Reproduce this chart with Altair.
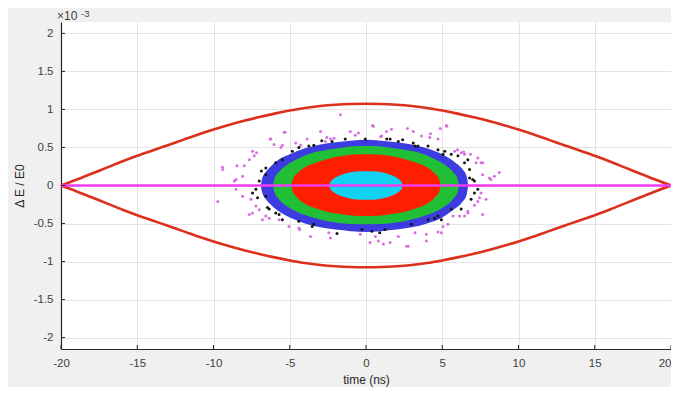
import altair as alt
import pandas as pd

# ---------------- data (ΔE/E0 in units of 1e-3) ----------------
sep_x = [-20, -19, -18, -17, -16, -15, -14, -13, -12, -11, -10, -9, -8, -7, -6, -5, -4, -3, -2, -1, 0,
         1, 2, 3, 4, 5, 6, 7, 8, 9, 10, 11, 12, 13, 14, 15, 16, 17, 18, 19, 20]
sep_upper = [0, 0.075, 0.155, 0.235, 0.315, 0.39, 0.46, 0.53, 0.60, 0.67, 0.735, 0.795, 0.85, 0.90, 0.945,
             0.985, 1.02, 1.045, 1.062, 1.072, 1.075,
             1.072, 1.062, 1.045, 1.02, 0.985, 0.945, 0.90, 0.85, 0.795, 0.735, 0.67, 0.60, 0.53, 0.46,
             0.39, 0.315, 0.235, 0.155, 0.075, 0]
sep_lower = [0, -0.075, -0.155, -0.235, -0.315, -0.39, -0.46, -0.53, -0.60, -0.67, -0.735, -0.795, -0.85,
             -0.90, -0.945, -0.985, -1.02, -1.045, -1.062, -1.072, -1.075,
             -1.072, -1.062, -1.045, -1.02, -0.985, -0.945, -0.90, -0.85, -0.795, -0.735, -0.67, -0.60,
             -0.53, -0.46, -0.39, -0.315, -0.235, -0.155, -0.075, 0]

ref_x = [-20, 20]
ref_y = [0, 0]

blue_x = [-6.9, -6.8, -6.6, -6.3, -5.8, -5.0, -4.0, -3.0, -2.0, -1.0, 0.0, 1.0, 2.0, 3.0, 4.0, 5.0, 5.8, 6.3, 6.6, 6.7]
blue_top = [0, 0.10, 0.17, 0.24, 0.33, 0.41, 0.49, 0.54, 0.57, 0.59, 0.60, 0.59, 0.57, 0.54, 0.49, 0.41, 0.31, 0.22, 0.12, 0]
blue_bot = [0, -0.10, -0.17, -0.24, -0.33, -0.42, -0.50, -0.55, -0.58, -0.60, -0.61, -0.60, -0.58, -0.55, -0.50, -0.42, -0.31, -0.22, -0.12, 0]

green_x = [-6.1, -6.0, -5.7, -5.2, -4.5, -3.5, -2.5, -1.5, -0.5, 0.5, 1.5, 2.5, 3.5, 4.5, 5.2, 5.7, 6.0, 6.1]
green_top = [0, 0.09, 0.18, 0.27, 0.35, 0.43, 0.47, 0.50, 0.52, 0.52, 0.50, 0.47, 0.43, 0.35, 0.27, 0.18, 0.09, 0]
green_bot = [0, -0.09, -0.18, -0.27, -0.35, -0.42, -0.47, -0.50, -0.51, -0.51, -0.50, -0.47, -0.42, -0.35, -0.27, -0.18, -0.09, 0]

red_x = [-4.9, -4.8, -4.5, -4.0, -3.3, -2.5, -1.5, -0.5, 0.5, 1.5, 2.5, 3.3, 4.0, 4.5, 4.8, 4.9]
red_top = [0, 0.08, 0.16, 0.24, 0.30, 0.35, 0.39, 0.41, 0.41, 0.39, 0.35, 0.30, 0.24, 0.16, 0.08, 0]
red_bot = [0, -0.08, -0.16, -0.24, -0.30, -0.35, -0.38, -0.40, -0.40, -0.38, -0.35, -0.30, -0.24, -0.16, -0.08, 0]

cyan_x = [-2.4, -2.35, -2.2, -1.9, -1.5, -1.0, -0.4, 0.4, 1.0, 1.5, 1.9, 2.2, 2.35, 2.4]
cyan_top = [0, 0.04, 0.076, 0.116, 0.148, 0.173, 0.187, 0.187, 0.173, 0.148, 0.116, 0.076, 0.04, 0]
cyan_bot = [0, -0.04, -0.076, -0.116, -0.148, -0.173, -0.187, -0.187, -0.173, -0.148, -0.116, -0.076, -0.04, 0]

mag_x = [-1.68, 0.42, 5.27, 2.72, 4.23, -1.03, -0.70, -0.49, 1.03, -5.31, -6.29, -7.44, -7.18, -7.65, -6.03,
         -5.48, -4.61, -4.29, -2.33, -2.66, 5.81, 6.24, 6.46, 7.22, 7.54, 8.19, 8.74, 7.65, -8.52, -8.63,
         -8.09, -9.39, -9.72, -7.54, -7.22, -7.00, -6.57, -7.44, -5.05, -4.40, -2.44, 0.81, 2.66, 2.12,
         3.21, 4.72, 5.70, 6.46, 6.68, 7.54, 7.33, 7.44, 7.87, -5.37, -2.98, -9.41, -8.46, -7.98, -7.33,
         -6.24, -5.59, -2.57, -3.64, -2.33, -0.38, 0.27, 0.62, 1.14, 1.58, 2.77, 3.96, 3.96, 0.49, 0.96,
         1.34, 1.67, 3.10, 3.64, 4.18, -3.86, -2.10, 4.87, 5.30, 4.72, 7.65, 8.09, 8.42, 7.33, 6.00, 6.40,
         6.85, 7.11, 6.68, 6.14, 5.05, 4.94, 5.37, 7.65, -8.52, -8.09, -7.65, -6.79, -6.35, -5.70, -4.35]
mag_y = [0.93, 0.79, 0.79, 0.75, 0.68, 0.71, 0.66, 0.69, 0.65, 0.70, 0.61, 0.45, 0.43, 0.34, 0.54,
         0.53, 0.56, 0.53, 0.61, 0.58, 0.45, 0.43, 0.41, 0.30, 0.30, 0.08, 0.17, 0.14, 0.08, 0.06,
         0.12, 0.21, -0.21, -0.18, -0.27, -0.32, -0.40, -0.36, -0.54, -0.56, -0.62, -0.73, -0.80, -0.67,
         -0.62, -0.61, -0.40, -0.40, -0.34, -0.10, -0.21, -0.16, -0.18, 0.70, 0.71, 0.24, 0.26, 0.26, 0.39,
         0.61, 0.50, 0.63, -0.67, -0.69, -0.64, -0.75, -0.67, -0.77, -0.75, -0.80, -0.64, -0.73, 0.78, 0.64,
         0.71, 0.74, 0.71, 0.65, 0.63, 0.61, 0.62, 0.75, 0.78, 0.61, 0.30, 0.10, 0.12, 0.36, 0.47, 0.44,
         0.41, -0.26, -0.36, -0.40, -0.54, -0.62, -0.51, -0.38, -0.05, -0.14, -0.38, -0.45, -0.43, -0.45, -0.58]

blk_x = [-6.86, -6.57, -7.22, -7.00, -6.57, -6.46, -6.35, -5.92, -5.48, -3.53, -3.42, -0.27, 0.38, 1.25,
         2.98, 4.07, 4.72, 5.59, 6.89, 7.11, 7.00, 6.79, 6.68, 6.03, 5.16, 4.72, 4.07, 3.21, 2.12, 1.36,
         -0.05, -1.36, -2.23, -3.75, -4.40, -4.83, -5.48, -5.92, -6.57, -7.44, -7.11, -5.70, -4.40, 7.33,
         6.24, 4.94, 4.50, 6.46, 6.79, 7.11, 5.59, 5.05, -3.42, 1.58, 3.10, 3.40, -1.9, 0.9, -2.9, 2.4]
blk_y = [0.19, 0.14, -0.05, 0.06, -0.14, -0.29, -0.31, -0.36, -0.45, -0.54, -0.51, -0.58, -0.60, -0.58,
         -0.51, -0.45, -0.40, -0.31, -0.18, -0.10, 0.08, 0.10, 0.34, 0.39, 0.45, 0.47, 0.52, 0.52, 0.58, 0.61,
         0.61, 0.61, 0.58, 0.52, 0.50, 0.45, 0.34, 0.30, 0.23, -0.10, -0.16, -0.38, -0.47, -0.05,
         -0.31, -0.45, -0.43, 0.30, 0.21, 0.06, 0.41, 0.41, 0.53, 0.61, 0.56, 0.52, -0.63, -0.62, 0.59, 0.60]

x_ticks = [-20, -15, -10, -5, 0, 5, 10, 15, 20]
y_ticks = [-2, -1.5, -1, -0.5, 0, 0.5, 1, 1.5, 2]

# ---------------- tables ----------------
sep_df = pd.DataFrame({"t": sep_x + sep_x, "dE": sep_upper + sep_lower,
                       "branch": ["upper"] * len(sep_x) + ["lower"] * len(sep_x)})
ref_df = pd.DataFrame({"t": ref_x, "dE": ref_y})


def band(name, xs, top, bot):
    return pd.DataFrame({"t": xs, "dE": top, "bot": bot, "band": name})


bands = {
    "blue": band("blue", blue_x, blue_top, blue_bot),
    "green": band("green", green_x, green_top, green_bot),
    "red": band("red", red_x, red_top, red_bot),
    "cyan": band("cyan", cyan_x, cyan_top, cyan_bot),
}
mag_df = pd.DataFrame({"t": mag_x, "dE": mag_y})
blk_df = pd.DataFrame({"t": blk_x, "dE": blk_y})
xt_df = pd.DataFrame({"t": x_ticks})
yt_df = pd.DataFrame({"dE": y_ticks})

W, H = 610, 327
XDOM = [-20, 20]
YDOM = [-2.15, 2.15]
FONT = "Liberation Sans"

xscale = alt.Scale(domain=XDOM, nice=False, zero=False)
yscale = alt.Scale(domain=YDOM, nice=False, zero=False)

x_axis = alt.Axis(values=x_ticks, title="time (ns)", grid=True, labelExpr="'' + datum.value",
                  tickSize=0, labelPadding=8, titlePadding=6, labelFlush=False,
                  labelAlign=alt.ExprRef(expr="datum.value == 20 ? 'right' : 'center'"))
y_axis = alt.Axis(values=y_ticks, title="Δ E / E0", grid=True, labelExpr="'' + datum.value",
                  tickSize=0, labelPadding=8, titlePadding=7, labelFlush=False)

XE = alt.X("t:Q", scale=xscale, title="time (ns)")
YE = alt.Y("dE:Q", scale=yscale, title="Δ E / E0")

base_points = alt.Chart(mag_df).mark_circle(size=9, color="#d86ee0", opacity=1).encode(
    x=alt.X("t:Q", scale=xscale, axis=x_axis), y=alt.Y("dE:Q", scale=yscale, axis=y_axis))

band_colors = {"blue": ("#1c1cdc", 0.86), "green": ("#1ed21e", 0.88),
               "red": ("#ff1e00", 1.0), "cyan": ("#12d2f2", 1.0)}
band_layers = []
for name in ["blue", "green", "red", "cyan"]:
    col, op = band_colors[name]
    band_layers.append(
        alt.Chart(bands[name]).mark_area(color=col, opacity=op, interpolate="monotone").encode(
            x=XE, y=alt.Y("dE:Q", scale=yscale, title="Δ E / E0", stack=None), y2="bot:Q"))

blk_layer = alt.Chart(blk_df).mark_circle(size=9, color="#151515", opacity=1).encode(x=XE, y=YE)

sep_layer = alt.Chart(sep_df).mark_line(color="#dc2f1c", strokeWidth=2.6, interpolate="monotone").encode(
    x=XE, y=YE, detail="branch:N")

ref_layer = alt.Chart(ref_df).mark_line(color="#f23cf0", strokeWidth=2.6).encode(x=XE, y=YE)

# inward tick marks (MATLAB style)
xtick_layer = alt.Chart(xt_df).mark_rule(color="#262626", strokeWidth=1).encode(
    x=XE, y=alt.value(H), y2=alt.value(H - 4))
ytick_layer = alt.Chart(yt_df).mark_rule(color="#262626", strokeWidth=1).encode(
    y=YE, x=alt.value(0), x2=alt.value(4))

exp_df = pd.DataFrame({"a": [0]})
exp_main = alt.Chart(exp_df).mark_text(text="×10", align="left", baseline="alphabetic", font=FONT,
                                       fontSize=12, color="#404040").encode(
    x=alt.value(-4), y=alt.value(-2))
exp_sup = alt.Chart(exp_df).mark_text(text="-3", align="left", baseline="top", font=FONT,
                                      fontSize=9.5, color="#404040").encode(
    x=alt.value(20), y=alt.value(-13.5))

chart = alt.layer(base_points, band_layers[0], blk_layer, *band_layers[1:], sep_layer, ref_layer,
                  xtick_layer, ytick_layer, exp_main, exp_sup).properties(
    width=W, height=H,
    autosize=alt.AutoSizeParams(type="none"),
    padding={"left": 53, "top": 14, "right": 0, "bottom": 38},
    background="#f0f0f0",
).configure_view(fill="white", stroke=None).configure_axis(
    labelFont=FONT, labelFontSize=11.5, labelColor="#404040",
    titleFont=FONT, titleFontSize=12, titleFontWeight="normal", titleColor="#262626",
    gridColor="#e4e4e4", gridWidth=1, domainColor="#262626", domainWidth=1.2,
)

chart.save("out.html", embed_options={"renderer": "svg", "actions": False})
